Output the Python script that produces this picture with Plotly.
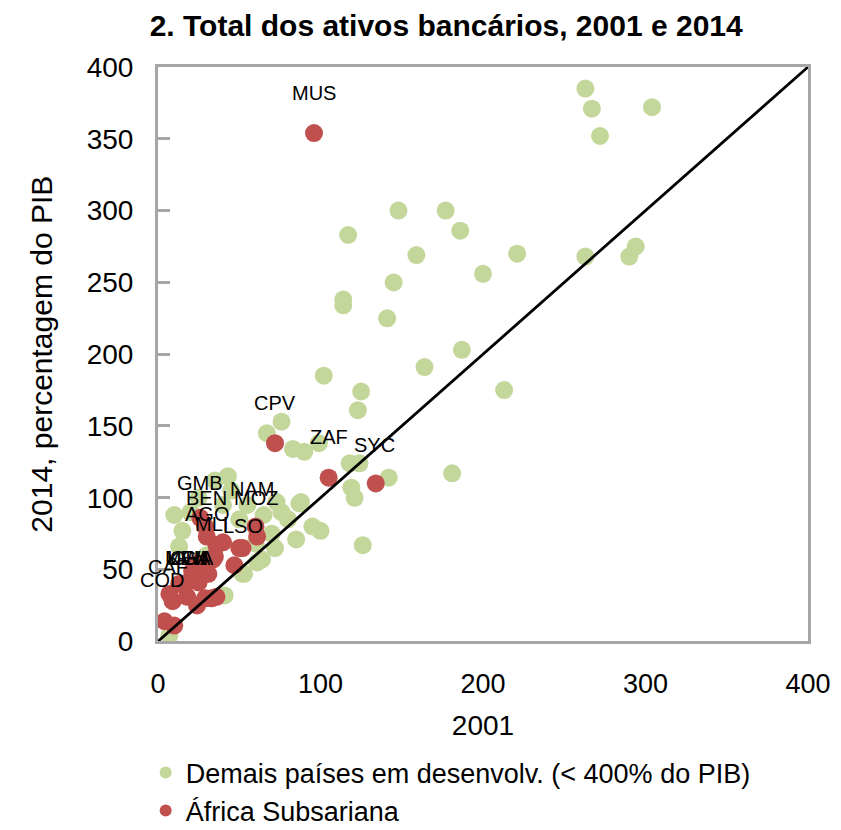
import plotly.graph_objects as go

# Demais países em desenvolvimento (2001, 2014) em % do PIB
green_2001 = [263, 267, 272, 304, 148, 177, 186, 117, 159, 221, 263, 294, 290, 200,
              145, 114, 114, 141, 102, 164, 187, 125, 123, 213,
              181, 142, 121, 118, 124, 119, 100, 126, 76, 67, 83, 90, 99, 87, 85,
              64, 52, 41, 43, 73, 88, 76, 15, 13, 7, 35, 45, 25, 20, 55, 65, 40,
              50, 60, 70, 72, 53, 61, 30, 80, 95, 10]
green_2014 = [385, 371, 352, 372, 300, 300, 286, 283, 269, 270, 268, 275, 268, 256,
              250, 238, 234, 225, 185, 191, 203, 174, 161, 175,
              117, 114, 100, 124, 124, 107, 77, 67, 153, 145, 134, 132, 138, 96, 71,
              57, 47, 32, 115, 97, 97, 90, 77, 66, 4, 112, 105, 100, 90, 95, 88, 95,
              85, 68, 75, 65, 47, 55, 60, 85, 80, 88]

# África Subsariana
red_2001 = [96, 72, 105, 134, 4, 10, 9, 18, 24, 29, 36, 25, 18, 31, 21, 27, 34,
            50, 40, 60, 61, 29, 30, 26, 36, 35, 13, 7, 47, 52, 33, 23]
red_2014 = [354, 138, 114, 110, 14, 11, 28, 31, 25, 30, 31, 41, 41, 47, 49, 54, 57,
            65, 69, 80, 73, 80, 73, 86, 67, 59, 40, 33, 53, 65, 30, 54]

# rótulos (país, posição do texto em 2001, 2014)
labels = ["MUS", "CPV", "ZAF", "SYC", "GMB", "NAM", "BEN", "MOZ", "AGO", "MLI", "LSO",
          "MWI", "UGA", "GHA", "KEN", "CAF", "COD"]
label_x = [96, 72, 105, 133, 26, 58, 30, 60, 30, 33, 52, 17, 19, 21, 18, 6, 2.5]
label_y = [382, 166, 142, 137, 110, 106, 100, 100, 89, 82, 80, 58, 58, 58, 58, 52, 43]

font = "Liberation Sans, Arial"
grey = "#A6A6A6"

fig = go.Figure()

fig.add_trace(go.Scatter(
    x=green_2001, y=green_2014, mode="markers",
    name="Demais países em desenvolv. (< 400% do PIB)",
    marker=dict(color="#C4D79B", size=18, line=dict(width=0)),
))
fig.add_trace(go.Scatter(
    x=red_2001, y=red_2014, mode="markers",
    name="África Subsariana",
    marker=dict(color="#C0504D", size=18, line=dict(width=0)),
))
# linha de 45 graus
fig.add_trace(go.Scatter(
    x=[0, 400], y=[0, 400], mode="lines", showlegend=False,
    line=dict(color="black", width=2.8),
))

for name, lx, ly in zip(labels, label_x, label_y):
    fig.add_annotation(x=lx, y=ly, text=name, showarrow=False,
                       font=dict(family=font, size=20, color="black"))

fig.update_layout(
    width=841, height=830,
    paper_bgcolor="white", plot_bgcolor="white",
    margin=dict(l=150, r=41, t=59, b=187),
    title=dict(text="<b>2. Total dos ativos bancários, 2001 e 2014</b>",
               x=0.521, xanchor="center", y=0.9795, yanchor="middle",
               font=dict(family=font, size=30, color="black")),
    font=dict(family=font, color="black"),
    legend=dict(x=-0.019, y=0.108, xanchor="left", yanchor="top",
                yref="container", orientation="v",
                font=dict(family=font, size=27),
                itemsizing="constant", tracegroupgap=0),
    showlegend=True,
)

fig.update_xaxes(
    range=[0, 400], dtick=100, showgrid=False, zeroline=False,
    showline=True, linecolor=grey, linewidth=3, mirror=True,
    ticks="", tickfont=dict(family=font, size=27), ticklabelstandoff=16,
    title=dict(text="2001", font=dict(family=font, size=28), standoff=18),
)
fig.update_yaxes(
    range=[0, 400], dtick=50, showgrid=False, zeroline=False,
    showline=True, linecolor=grey, linewidth=3, mirror=True,
    ticks="inside", ticklen=12, tickwidth=3, tickcolor=grey,
    tickfont=dict(family=font, size=28), ticklabelstandoff=16,
    title=dict(text="2014, percentagem do PIB", font=dict(family=font, size=30),
               standoff=26),
)

fig.write_html("out.html")
